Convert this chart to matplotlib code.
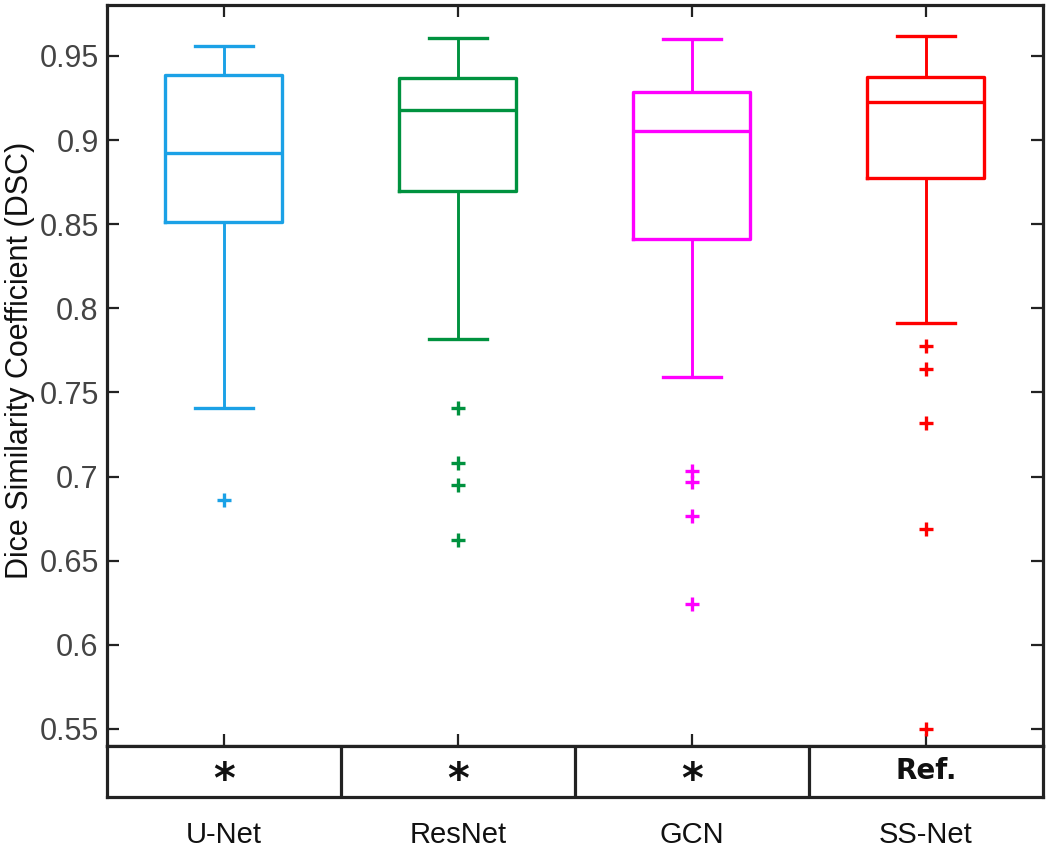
import matplotlib
matplotlib.use("Agg")
import matplotlib.pyplot as plt

# values
models = ["U-Net", "ResNet", "GCN", "SS-Net"]
sig_marks = ["*", "*", "*", "Ref."]
colors = ["#1ba1e6", "#00923f", "#ff00ff", "#ff0000"]

whis_hi = [0.9561, 0.9605, 0.9601, 0.9619]
q3 = [0.9389, 0.9371, 0.9288, 0.9373]
med = [0.8923, 0.9179, 0.9056, 0.9228]
q1 = [0.8515, 0.8697, 0.8410, 0.8777]
whis_lo = [0.7409, 0.7816, 0.7594, 0.7911]
outliers = [
    [0.6859],
    [0.7409, 0.7079, 0.6951, 0.6624],
    [0.7035, 0.6967, 0.6765, 0.6240],
    [0.7776, 0.7639, 0.7320, 0.6690, 0.5499],
]

plt.rcParams['font.family'] = ['Liberation Sans', 'DejaVu Sans']

fig = plt.figure(figsize=(10.5, 8.5), dpi=100)
ax = fig.add_axes([0.1019, 0.1224, 0.8914, 0.8717])

for i in range(len(models)):
    st = dict(whishi=whis_hi[i], q3=q3[i], med=med[i], q1=q1[i],
              whislo=whis_lo[i], fliers=outliers[i])
    c = colors[i]
    ax.bxp([st], positions=[i + 1], widths=0.5, showfliers=True,
           boxprops=dict(color=c, linewidth=2.4),
           medianprops=dict(color=c, linewidth=2.4),
           whiskerprops=dict(color=c, linewidth=2.1),
           capprops=dict(color=c, linewidth=2.4),
           flierprops=dict(marker='+', markeredgecolor=c, markersize=9.5,
                           markeredgewidth=2.4, linestyle='none'))

ax.set_xlim(0.5, 4.5)
ax.set_ylim(0.5399, 0.9803)
ax.set_yticks([0.55, 0.6, 0.65, 0.7, 0.75, 0.8, 0.85, 0.9, 0.95])
ax.set_yticklabels(["0.55", "0.6", "0.65", "0.7", "0.75", "0.8", "0.85", "0.9", "0.95"])
ax.set_xticks([1, 2, 3, 4])
ax.set_xticklabels([])
ax.tick_params(axis='both', direction='in', length=8.5, width=1.6, color='#222222',
               top=True, right=True, labelsize=22, labelcolor='#444444', pad=6)
for s in ax.spines.values():
    s.set_linewidth(2.3)
    s.set_color('#222222')
ax.set_ylabel("Dice Similarity Coefficient (DSC)", fontsize=22, color='#111111')
ax.yaxis.set_label_coords(-0.077, 0.52)

# significance row under the plot
tab = fig.add_axes([0.1019, 0.0624, 0.8914, 0.06])
tab.set_xlim(0.5, 4.5)
tab.set_ylim(0, 1)
tab.set_yticks([])
for s in tab.spines.values():
    s.set_linewidth(2.3)
    s.set_color('#222222')
for k in range(1, len(models)):
    tab.axvline(k + 0.5, color='#222222', linewidth=2.3)
for i, m in enumerate(sig_marks):
    if m == "*":
        tab.text(i + 1, 0.32, m, ha='center', va='center', fontsize=30,
                 fontweight='bold', family='DejaVu Sans', color='#111111')
    else:
        tab.text(i + 1, 0.5, m, ha='center', va='center', fontsize=20,
                 fontweight='bold', family='DejaVu Sans', color='#111111')
tab.set_xticks([1, 2, 3, 4])
tab.set_xticklabels(models)
tab.tick_params(axis='x', length=0, pad=17, labelsize=21, labelcolor='#111111')

fig.savefig("out.png", dpi=100)
